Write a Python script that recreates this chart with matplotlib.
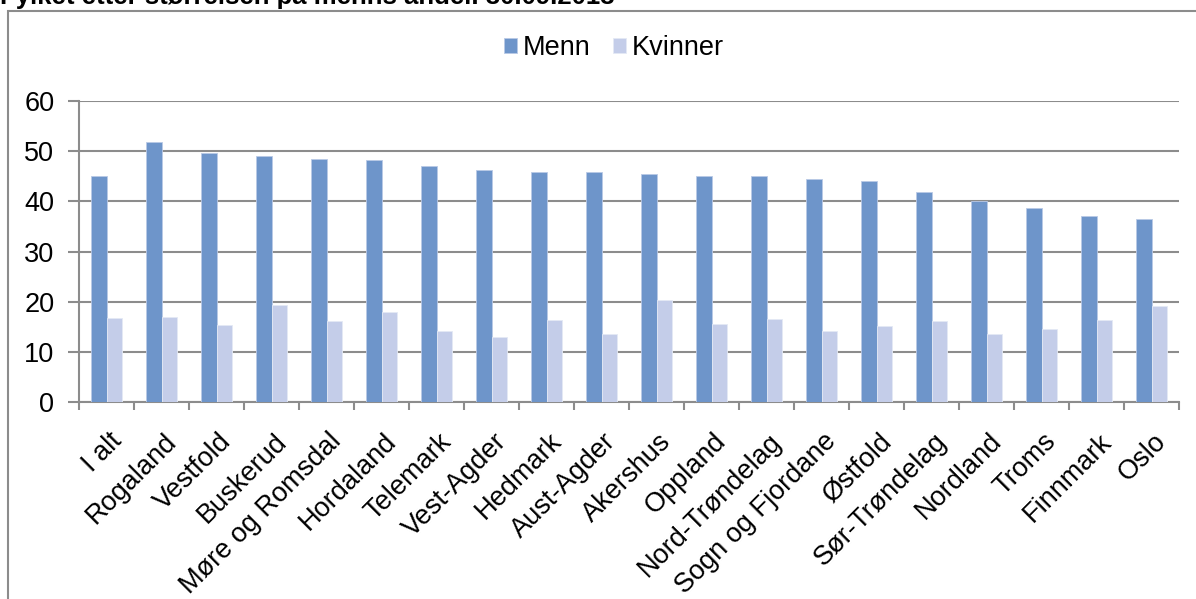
import matplotlib
matplotlib.use("Agg")
import matplotlib.pyplot as plt
import numpy as np
from matplotlib.patches import Rectangle

plt.rcParams['font.family'] = ['Liberation Sans', 'DejaVu Sans']

categories = ["I alt", "Rogaland", "Vestfold", "Buskerud", "Møre og Romsdal", "Hordaland",
              "Telemark", "Vest-Agder", "Hedmark", "Aust-Agder", "Akershus", "Oppland",
              "Nord-Trøndelag", "Sogn og Fjordane", "Østfold", "Sør-Trøndelag", "Nordland",
              "Troms", "Finnmark", "Oslo"]
menn = [45.0, 51.8, 49.6, 49.0, 48.4, 48.2, 47.0, 46.2, 45.9, 45.9, 45.4, 45.0,
        45.0, 44.4, 44.0, 41.8, 40.0, 38.7, 37.1, 36.5]
kvinner = [16.7, 16.9, 15.4, 19.3, 16.2, 18.0, 14.2, 13.0, 16.3, 13.6, 20.4, 15.6,
           16.6, 14.1, 15.1, 16.2, 13.6, 14.6, 16.3, 19.2]
series_names = ["Menn", "Kvinner"]
yticks = [0, 10, 20, 30, 40, 50, 60]
title = "Fylket etter størrelsen på menns andel. 30.09.2013"

W, H = 1196, 599
fig = plt.figure(figsize=(W / 100, H / 100), dpi=100)

# outer frame (extends past right and bottom edges)
fig.patches.append(Rectangle((8 / W, -0.1), 1.2, (H - 10.5) / H + 0.1, transform=fig.transFigure,
                             fill=False, edgecolor='#8c8c8c', linewidth=1.5))

fig.text(0.0, 1 - 4 / H, title, fontsize=18.5, fontweight='bold', ha='left', va='baseline')

ax = fig.add_axes([79.3 / W, 1 - 402 / H, (1179 - 79.3) / W, (402 - 101) / H])

x = np.arange(len(categories))
bw = 0.283
c_m = '#6e95ca'
c_k = '#c4cde9'
ax.bar(x - bw / 2, menn, bw, color=c_m, edgecolor='#b9c9e6', linewidth=0.6, label=series_names[0], zorder=3)
ax.bar(x + bw / 2, kvinner, bw, color=c_k, edgecolor='#e4e9f5', linewidth=0.6, label=series_names[1], zorder=3)

ax.set_xlim(-0.5, len(categories) - 0.5)
ax.set_ylim(0, 60)
ax.set_yticks(yticks)
ax.set_yticklabels([str(v) for v in yticks], fontsize=19.5)
ax.yaxis.grid(True, color='#8c8c8c', linewidth=1.5, zorder=0)
ax.set_axisbelow(True)

# category tick marks at boundaries
ax.set_xticks(np.arange(len(categories) + 1) - 0.5, minor=False)
ax.set_xticklabels([])
ax.tick_params(axis='x', which='major', length=6, width=1.5, color='#8c8c8c', direction='out')
ax.set_xticks(x + 0.03, minor=True)
ax.set_xticklabels(categories, minor=True, rotation=45, ha='right', va='top',
                   rotation_mode='anchor', fontsize=19.5)
ax.tick_params(axis='x', which='minor', length=0, pad=19)
ax.tick_params(axis='y', length=8, width=1.5, color='#8c8c8c', pad=10)

for s in ['top', 'right']:
    ax.spines[s].set_visible(False)
for s in ['left', 'bottom']:
    ax.spines[s].set_color('#8c8c8c')
    ax.spines[s].set_linewidth(1.5)

leg = fig.legend(loc='center', bbox_to_anchor=(614 / W, 1 - 48 / H), ncol=2, frameon=False,
                 fontsize=19.5, handlelength=0.47, handleheight=0.47, handletextpad=0.2,
                 columnspacing=0.85)

fig.savefig('out.png', dpi=100)
